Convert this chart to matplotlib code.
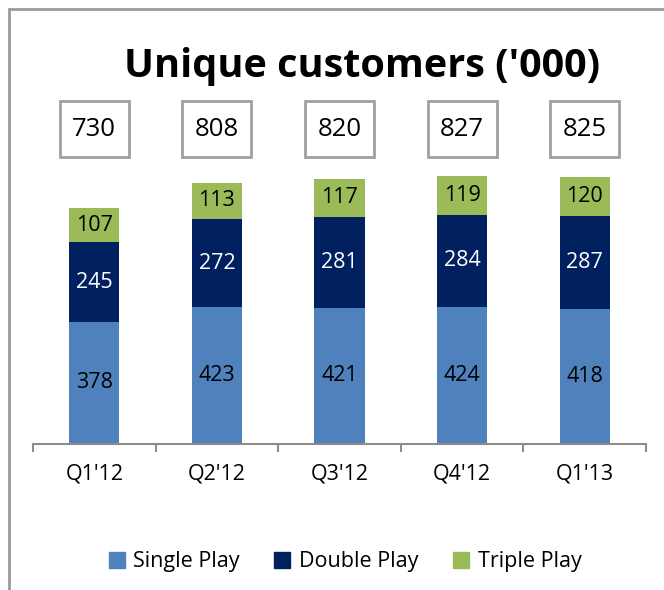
import matplotlib
matplotlib.use("Agg")
import matplotlib.pyplot as plt
from matplotlib.patches import Rectangle
import matplotlib.transforms as mtransforms

categories = ["Q1'12", "Q2'12", "Q3'12", "Q4'12", "Q1'13"]
single_play = [378, 423, 421, 424, 418]
double_play = [245, 272, 281, 284, 287]
triple_play = [107, 113, 117, 119, 120]
totals = [730, 808, 820, 827, 825]

series_names = ["Single Play", "Double Play", "Triple Play"]
colors = ["#4F81BD", "#002060", "#9BBB59"]
label_colors = ["black", "white", "black"]

plt.rcParams['font.family'] = ['Open Sans', 'DejaVu Sans']

W, H = 664, 590
fig = plt.figure(figsize=(W / 100, H / 100), dpi=100)

# axes placement in pixels
ax_left, ax_right, ax_bottom, ax_top = 33, 646, 444, 170
ax = fig.add_axes([ax_left / W, 1 - ax_bottom / H, (ax_right - ax_left) / W, (ax_bottom - ax_top) / H])

x = list(range(len(categories)))
bw = 0.41
bottoms = [0] * len(categories)
for vals, name, col, lc in zip([single_play, double_play, triple_play], series_names, colors, label_colors):
    ax.bar(x, vals, bw, bottom=bottoms, color=col, label=name, edgecolor='none')
    for xi, v, b in zip(x, vals, bottoms):
        ax.text(xi, b + v / 2, str(v), ha='center', va='center', fontsize=15.5, color=lc)
    bottoms = [b + v for b, v in zip(bottoms, vals)]

ax.set_xlim(-0.5, len(categories) - 0.5)
ax.set_ylim(0, 847)
ax.set_yticks([])
for s in ['top', 'right', 'left']:
    ax.spines[s].set_visible(False)
ax.spines['bottom'].set_color('#8C8C8C')
ax.spines['bottom'].set_linewidth(1.5)
ax.set_xticks(x)
ax.set_xticklabels(categories, fontsize=15.5)
ax.tick_params(axis='x', which='major', length=0, pad=14)
ax.set_xticks([i - 0.5 for i in range(len(categories) + 1)], minor=True)
ax.tick_params(axis='x', which='minor', length=6, width=1.5, color='#8C8C8C', direction='out')

# total boxes
trans = mtransforms.blended_transform_factory(ax.transData, fig.transFigure)
box_w = 69 / 122.6
box_top, box_bot = 101, 157
for xi, t in zip(x, totals):
    rect = Rectangle((xi - box_w / 2, 1 - box_bot / H), box_w, (box_bot - box_top) / H,
                     transform=trans, facecolor='white', edgecolor='#A0A0A0', linewidth=2,
                     clip_on=False, zorder=2)
    fig.add_artist(rect)
    fig.text(0, 0, str(t), ha='center', va='center', fontsize=18.5, color='black', zorder=5,
             transform=trans).set_position((xi, 1 - (box_top + box_bot) / 2 / H))

# title
fig.text(362 / W, 1 - 66 / H, "Unique customers ('000)", ha='center', va='center',
         fontsize=28.5, fontweight='bold', color='black')

# legend
handles = [Rectangle((0, 0), 1, 1, color=c) for c in colors]
fig.legend(handles, series_names, loc='center', bbox_to_anchor=(345 / W, 1 - 562 / H), ncol=3,
           frameon=False, fontsize=15.5, handlelength=0.75, handleheight=0.75, handletextpad=0.4,
           columnspacing=1.6)

# outer frame (only left and top visible in crop)
frame = Rectangle((8.5 / W, -0.2), 1.2, 1.2 - 8.5 / H, transform=fig.transFigure,
                  facecolor='none', edgecolor='#9A9A9A', linewidth=2, clip_on=False)
fig.add_artist(frame)

fig.savefig("out.png", dpi=100)
